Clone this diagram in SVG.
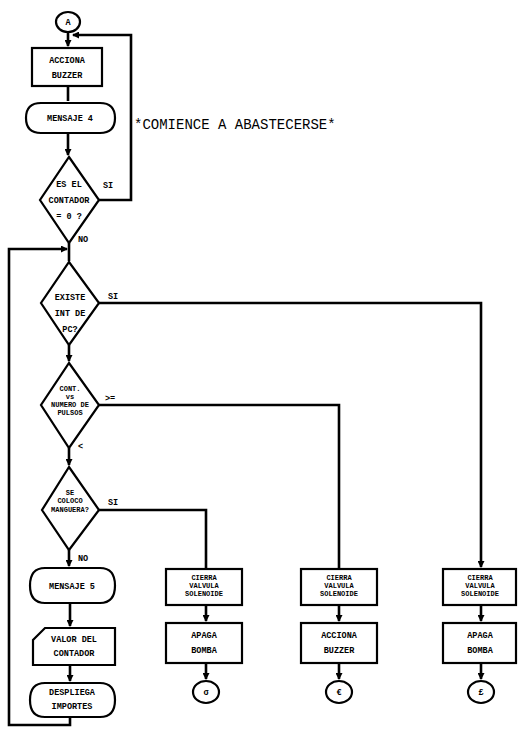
<svg xmlns="http://www.w3.org/2000/svg" width="518" height="730" viewBox="0 0 518 730">
<defs>
<marker id="ah" markerWidth="7" markerHeight="7" refX="6" refY="3.5" orient="auto" markerUnits="userSpaceOnUse">
<path d="M0,0 L7,3.5 L0,7 Z" fill="#000"/>
</marker>
<style>
.s{fill:#fff;stroke:#000;stroke-width:2.2}
.c{fill:none;stroke:#000;stroke-width:2.6}
.t{font-family:"Liberation Mono",monospace;font-weight:bold;font-size:8.5px;fill:#000;text-anchor:middle}
.d{font-family:"Liberation Mono",monospace;font-weight:bold;font-size:7px;fill:#000;text-anchor:middle}
.l{font-family:"Liberation Mono",monospace;font-weight:bold;font-size:8.5px;fill:#000}
.n{font-family:"Liberation Mono",monospace;font-size:14px;fill:#000}
</style>
</defs>
<rect width="518" height="730" fill="#fff"/>
<g id="connectors">
<path class="c" d="M68,32 V46" marker-end="url(#ah)"/>
<path class="c" d="M99,200 H131 V35 H73" marker-end="url(#ah)"/>
<path class="c" d="M68,86 V101"/>
<path class="c" d="M68,133 V155" marker-end="url(#ah)"/>
<path class="c" d="M69,243 V261"/>
<path class="c" d="M70,717 V725 H9 V249 H67" marker-end="url(#ah)"/>
<path class="c" d="M99,303 H481 V567" marker-end="url(#ah)"/>
<path class="c" d="M69,345 V361" marker-end="url(#ah)"/>
<path class="c" d="M99,405 H339 V568"/>
<path class="c" d="M69,448 V465" marker-end="url(#ah)"/>
<path class="c" d="M99,510 H206 V568"/>
<path class="c" d="M69,550 V566" marker-end="url(#ah)"/>
<path class="c" d="M70,603 V626" marker-end="url(#ah)"/>
<path class="c" d="M70,665 V681" marker-end="url(#ah)"/>
<path class="c" d="M206,605 V621" marker-end="url(#ah)"/>
<path class="c" d="M339,605 V621" marker-end="url(#ah)"/>
<path class="c" d="M481,605 V621" marker-end="url(#ah)"/>
<path class="c" d="M206,663 V679" marker-end="url(#ah)"/>
<path class="c" d="M339,663 V679" marker-end="url(#ah)"/>
<path class="c" d="M481,663 V679" marker-end="url(#ah)"/>
<text class="l" x="103" y="188">SI</text>
<text class="l" x="78" y="242">NO</text>
<text class="l" x="108" y="299">SI</text>
<text class="l" x="105" y="401">&gt;=</text>
<text class="l" x="78" y="449">&lt;</text>
<text class="l" x="108" y="505">SI</text>
<text class="l" x="78" y="561">NO</text>
</g>
<g id="startA">
<ellipse class="s" cx="68" cy="22" rx="12" ry="10"/>
<text class="t" x="68" y="25">A</text>
</g>
<g id="accionaBuzzer1">
<rect class="s" x="32" y="48" width="70" height="38"/>
<text class="t" x="67" y="63">ACCIONA</text>
<text class="t" x="67" y="78">BUZZER</text>
</g>
<g id="mensaje4">
<path class="s" d="M41,103 H100 Q115,103 115,118 Q115,133 100,133 H41 Q26,133 26,118 Q26,103 41,103 Z"/>
<text class="t" x="70" y="121">MENSAJE 4</text>
</g>
<text class="n" x="134" y="129">*COMIENCE A ABASTECERSE*</text>
<g id="esContador">
<polygon class="s" points="69,157 99,200 69,243 40,200"/>
<text class="t" x="69" y="187">ES EL</text>
<text class="t" x="69" y="203">CONTADOR</text>
<text class="t" x="69" y="219">= 0 ?</text>
</g>
<g id="existeInt">
<polygon class="s" points="69,262 99,303 69,345 41,303"/>
<text class="t" x="70" y="300">EXISTE</text>
<text class="t" x="70" y="316">INT DE</text>
<text class="t" x="70" y="332">PC?</text>
</g>
<g id="contPulsos">
<polygon class="s" points="69,363 99,405 69,448 41,405"/>
<text class="d" x="70" y="391">CONT.</text>
<text class="d" x="70" y="399">vs</text>
<text class="d" x="70" y="407">NUMERO DE</text>
<text class="d" x="70" y="415">PULSOS</text>
</g>
<g id="manguera">
<polygon class="s" points="69,467 99,510 69,550 42,510"/>
<text class="d" x="70" y="495">SE</text>
<text class="d" x="70" y="503">COLOCO</text>
<text class="d" x="70" y="512">MANGUERA?</text>
</g>
<g id="mensaje5">
<path class="s" d="M45,568 H100 Q115,568 115,585.5 Q115,603 100,603 H45 Q30,603 30,585.5 Q30,568 45,568 Z"/>
<text class="t" x="72" y="589">MENSAJE 5</text>
</g>
<g id="valorContador">
<path class="s" d="M45,628 H115 V665 H33 V640 Z"/>
<text class="t" x="74" y="642">VALOR DEL</text>
<text class="t" x="74" y="656">CONTADOR</text>
</g>
<g id="despliega">
<path class="s" d="M45,683 H100 Q115,683 115,700 Q115,717 100,717 H45 Q30,717 30,700 Q30,683 45,683 Z"/>
<text class="t" x="72" y="695">DESPLIEGA</text>
<text class="t" x="72" y="709">IMPORTES</text>
</g>
<g id="cierra1">
<rect class="s" x="166" y="569" width="76" height="36"/>
<text class="d" x="204" y="580">CIERRA</text>
<text class="d" x="204" y="588">VALVULA</text>
<text class="d" x="204" y="596">SOLENOIDE</text>
</g>
<g id="apaga1">
<rect class="s" x="166" y="623" width="76" height="40"/>
<text class="t" x="204" y="638">APAGA</text>
<text class="t" x="204" y="653">BOMBA</text>
</g>
<g id="endB">
<ellipse class="s" cx="206" cy="692" rx="13" ry="11"/>
<text class="t" x="206" y="695">σ</text>
</g>
<g id="cierra2">
<rect class="s" x="301" y="569" width="76" height="36"/>
<text class="d" x="339" y="580">CIERRA</text>
<text class="d" x="339" y="588">VALVULA</text>
<text class="d" x="339" y="596">SOLENOIDE</text>
</g>
<g id="accionaBuzzer2">
<rect class="s" x="301" y="623" width="76" height="40"/>
<text class="t" x="339" y="638">ACCIONA</text>
<text class="t" x="339" y="653">BUZZER</text>
</g>
<g id="endC">
<ellipse class="s" cx="339" cy="692" rx="13" ry="11"/>
<text class="t" x="339" y="695">€</text>
</g>
<g id="cierra3">
<rect class="s" x="443" y="569" width="73" height="36"/>
<text class="d" x="480" y="580">CIERRA</text>
<text class="d" x="480" y="588">VALVULA</text>
<text class="d" x="480" y="596">SOLENOIDE</text>
</g>
<g id="apaga3">
<rect class="s" x="443" y="623" width="73" height="40"/>
<text class="t" x="480" y="638">APAGA</text>
<text class="t" x="480" y="653">BOMBA</text>
</g>
<g id="endD">
<ellipse class="s" cx="481" cy="692" rx="13" ry="11"/>
<text class="t" x="481" y="695">£</text>
</g>
</svg>
